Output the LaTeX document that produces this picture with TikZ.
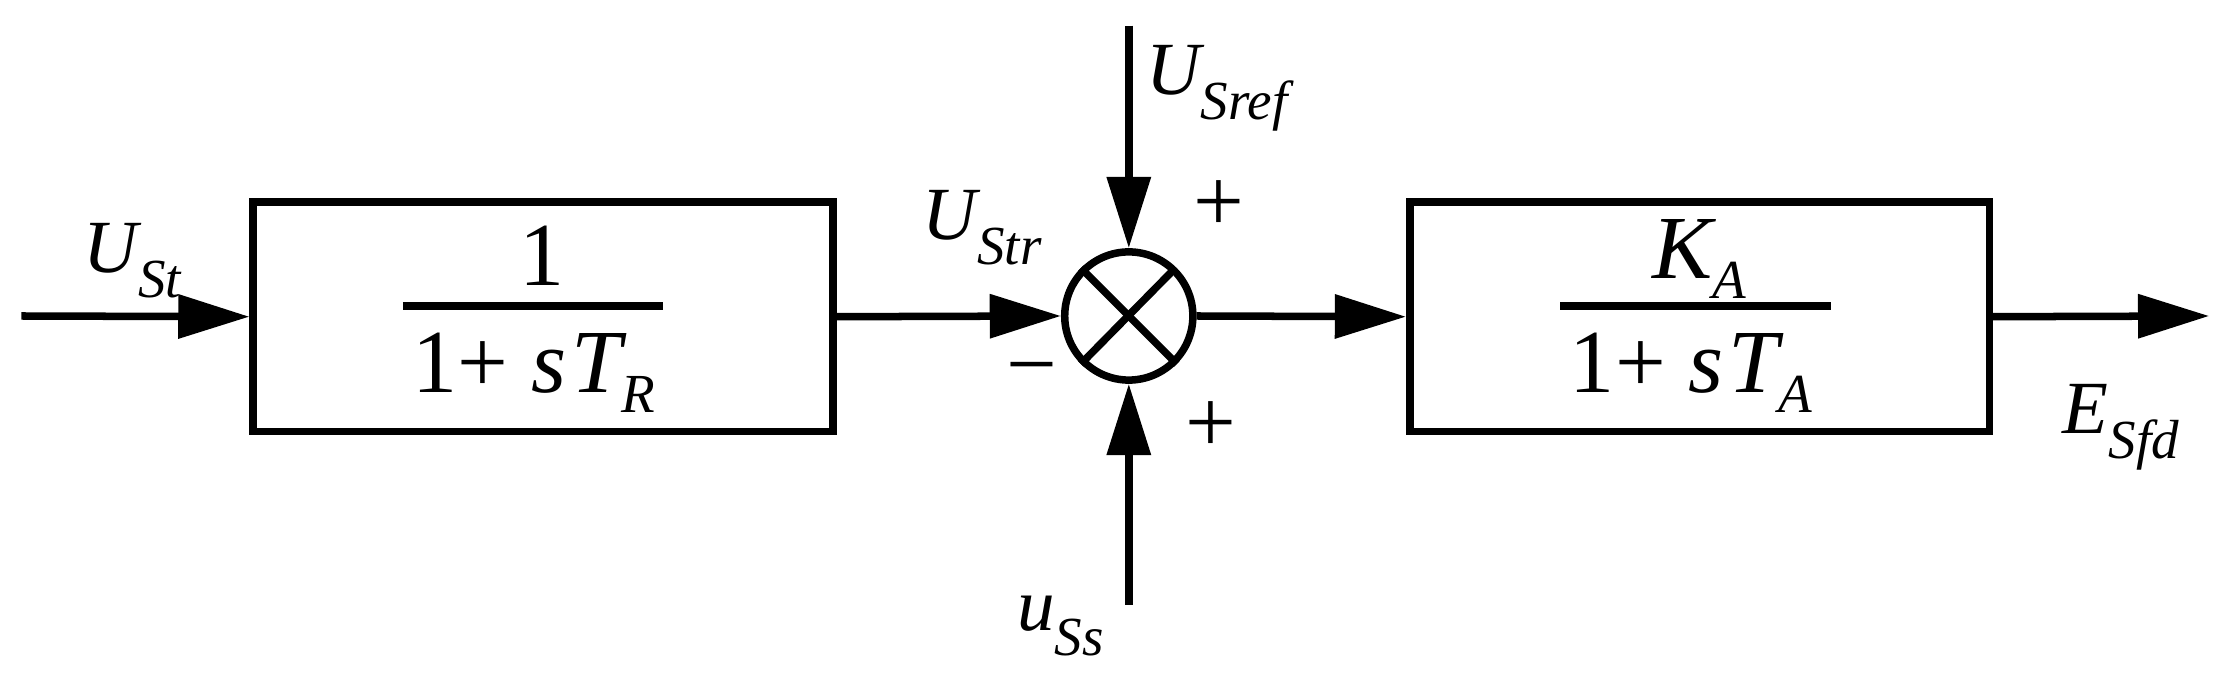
\documentclass[tikz,border=0pt]{standalone}
\usepackage{fontspec}
\setmainfont{Liberation Serif}
\usetikzlibrary{arrows.meta}
\begin{document}
\begin{tikzpicture}[x=0.01cm,y=-0.01cm,line width=1.5pt,
  arr/.style={-{Triangle[length=0.5cm,width=0.3cm]}},
  blk/.style={draw,minimum width=4.07cm,minimum height=1.61cm,inner sep=0pt},
  lab/.style={font=\fontsize{15}{18}\selectfont\itshape,inner sep=0pt},
  sgn/.style={font=\fontsize{18}{20}\selectfont,inner sep=0pt}]
\useasboundingbox (0,0) rectangle (1568,483);
\node[blk] (b1) at (381.5,222.5) {};
\node[blk] (b2) at (1194,222.5) {};
\node[draw,circle,minimum size=0.9cm,inner sep=0pt] (s) at (793,222) {};
\coordinate (in) at (15,222);
\coordinate (out) at (1552,222);
\coordinate (top) at (793,18);
\coordinate (bot) at (793,425);
\draw[arr] (in) -- (b1.west);
\draw[arr] (b1.east) -- (s.west);
\draw[arr] (s.east) -- (b2.west);
\draw[arr] (b2.east) -- (out);
\draw[arr] (top) -- (s.north);
\draw[arr] (bot) -- (s.south);
\draw (s.south west) -- (825,189);
\draw (s.north west) -- (s.south east);
% fractions
\draw (283,215) -- (466,215);
\node[sgn] (n1) at (381,180) {1};
\node[sgn] (d1) at (375,262) {1+ \itshape s\kern1pt T\raisebox{-4pt}{\fontsize{11}{13}\selectfont R}};
\draw (1096,215) -- (1286,215);
\node[sgn] (n2) at (1194,182) {\itshape K\raisebox{-4pt}{\fontsize{11}{13}\selectfont A}};
\node[sgn] (d2) at (1188,262) {1+ \itshape s\kern1pt T\raisebox{-4pt}{\fontsize{11}{13}\selectfont A}};
% labels
\node[lab] (l1) at (93,183) {U\raisebox{-5pt}{\fontsize{11}{13}\selectfont St}};
\node[lab] (l2) at (690,160) {U\raisebox{-5pt}{\fontsize{11}{13}\selectfont Str}};
\node[lab] (l3) at (855,62) {U\raisebox{-5pt}{\fontsize{11}{13}\selectfont Sref}};
\node[lab] (l4) at (745,440) {u\raisebox{-5pt}{\fontsize{11}{13}\selectfont Ss}};
\node[lab] (l5) at (1490,300) {E\raisebox{-5pt}{\fontsize{11}{13}\selectfont Sfd}};
\node[sgn] (p1) at (856,145) {+};
\node[sgn] (p2) at (851,300) {+};
\node[sgn] (m1) at (725,266) {\textminus};
\end{tikzpicture}
\end{document}
